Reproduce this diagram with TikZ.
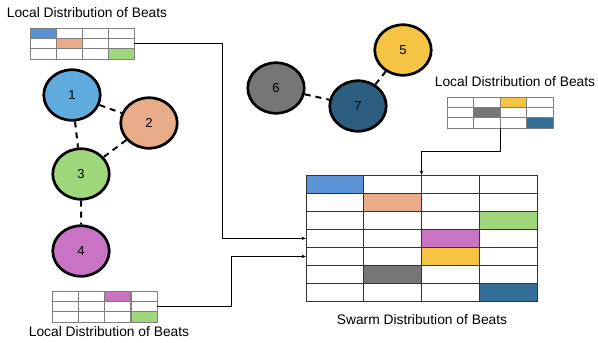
\documentclass[tikz,border=0pt]{standalone}
\usepackage{fontspec}
\setmainfont{Liberation Sans}
\usetikzlibrary{shapes.geometric,arrows.meta}

\definecolor{botblue}{RGB}{96,172,222}
\definecolor{cellblue}{RGB}{91,146,214}
\definecolor{botorange}{RGB}{232,172,137}
\definecolor{botgreen}{RGB}{160,215,125}
\definecolor{botpurple}{RGB}{201,115,196}
\definecolor{botyellow}{RGB}{245,196,66}
\definecolor{botgray}{RGB}{118,118,118}
\definecolor{botnavy}{RGB}{44,94,128}
\definecolor{cellnavy}{RGB}{52,111,151}

\tikzset{
  bot/.style={ellipse, draw, line width=2.7pt, minimum width=56.5pt, minimum height=50.5pt,
    font=\fontsize{13}{15}\selectfont},
  link/.style={line width=2pt, dash pattern=on 6pt off 5pt},
  cell/.style={draw=gray, line width=0.6pt, fill=white, minimum width=26pt,
    minimum height=10.3pt, inner sep=0pt, outer sep=0pt},
  bigcell/.style={draw=black!80, line width=0.7pt, fill=white, minimum width=57.75pt,
    minimum height=18.1pt, inner sep=0pt, outer sep=0pt},
  heading/.style={font=\fontsize{13.8}{16}\selectfont, inner sep=0pt},
  feed/.style={-{Stealth[length=4.5pt,width=3.5pt]}, line width=0.8pt}
}

\begin{document}
\begin{tikzpicture}[x=1pt, y=-1pt]
  \useasboundingbox (0,0) rectangle (598,343);

  % robots
  \node[bot, fill=botblue] (b1) at (72,95) {1};
  \node[bot, fill=botorange] (b2) at (149,123) {2};
  \node[bot, fill=botgreen] (b3) at (81,174) {3};
  \node[bot, fill=botpurple] (b4) at (81,251) {4};
  \node[bot, fill=botyellow] (b5) at (403,50) {5};
  \node[bot, fill=botgray] (b6) at (276,88) {6};
  \node[bot, fill=botnavy] (b7) at (358,106) {7};
  \draw[link] (b1) -- (b2) (b1) -- (b3) (b2) -- (b3) (b3) -- (b4)
  (b6) -- (b7) (b7) -- (b5);

  % local tables
  \foreach \r in {1,2,3}
    \foreach \c in {1,...,4} {
      \node[cell] (ta-\r-\c) at ({30+(\c-0.5)*26},{28+(\r-0.5)*10.3}) {};
      \node[cell] (tb-\r-\c) at ({52+(\c-0.5)*26.25},{291+(\r-0.5)*10.3}) {};
      \node[cell, minimum width=26.5pt] (tc-\r-\c) at ({447+(\c-0.5)*26.5},{97+(\r-0.5)*10.3}) {};
    }
  \foreach \r/\c/\col in {1/1/cellblue, 2/2/botorange, 3/4/botgreen}
    \draw[draw=gray, line width=0.6pt, fill=\col] (ta-\r-\c.south west) rectangle (ta-\r-\c.north east);
  \foreach \r/\c/\col in {1/3/botpurple, 3/4/botgreen}
    \draw[draw=gray, line width=0.6pt, fill=\col] (tb-\r-\c.south west) rectangle (tb-\r-\c.north east);
  \foreach \r/\c/\col in {1/3/botyellow, 2/2/botgray, 3/4/cellnavy}
    \draw[draw=gray, line width=0.6pt, fill=\col] (tc-\r-\c.south west) rectangle (tc-\r-\c.north east);

  % swarm table
  \foreach \r in {1,...,7}
    \foreach \c in {1,...,4}
      \node[bigcell] (sw-\r-\c) at ({306+(\c-0.5)*57.75},{175+(\r-0.5)*18.1}) {};
  \foreach \r/\c/\col in {1/1/cellblue, 2/2/botorange, 3/4/botgreen, 4/3/botpurple,
    5/3/botyellow, 6/2/botgray, 7/4/cellnavy}
    \draw[draw=black!80, line width=0.7pt, fill=\col] (sw-\r-\c.south west) rectangle (sw-\r-\c.north east);

  \node[heading] (ha) at (87,13) {Local Distribution of Beats};
  \node[heading] (hb) at (109,332) {Local Distribution of Beats};
  \node[heading] (hc) at (515,82) {Local Distribution of Beats};
  \node[heading] (hs) at (422,320) {Swarm Distribution of Beats};

  \draw[feed] (ta-2-4.east) -- ++(88,0) |- (sw-4-1.west);
  \draw[feed] (tb-2-4.east) -- ++(75,0) |- (sw-5-1.west);
  \draw[feed] (tc-3-3.south west) -- ++(0,23) -| (sw-1-3.north west);
\end{tikzpicture}
\end{document}
